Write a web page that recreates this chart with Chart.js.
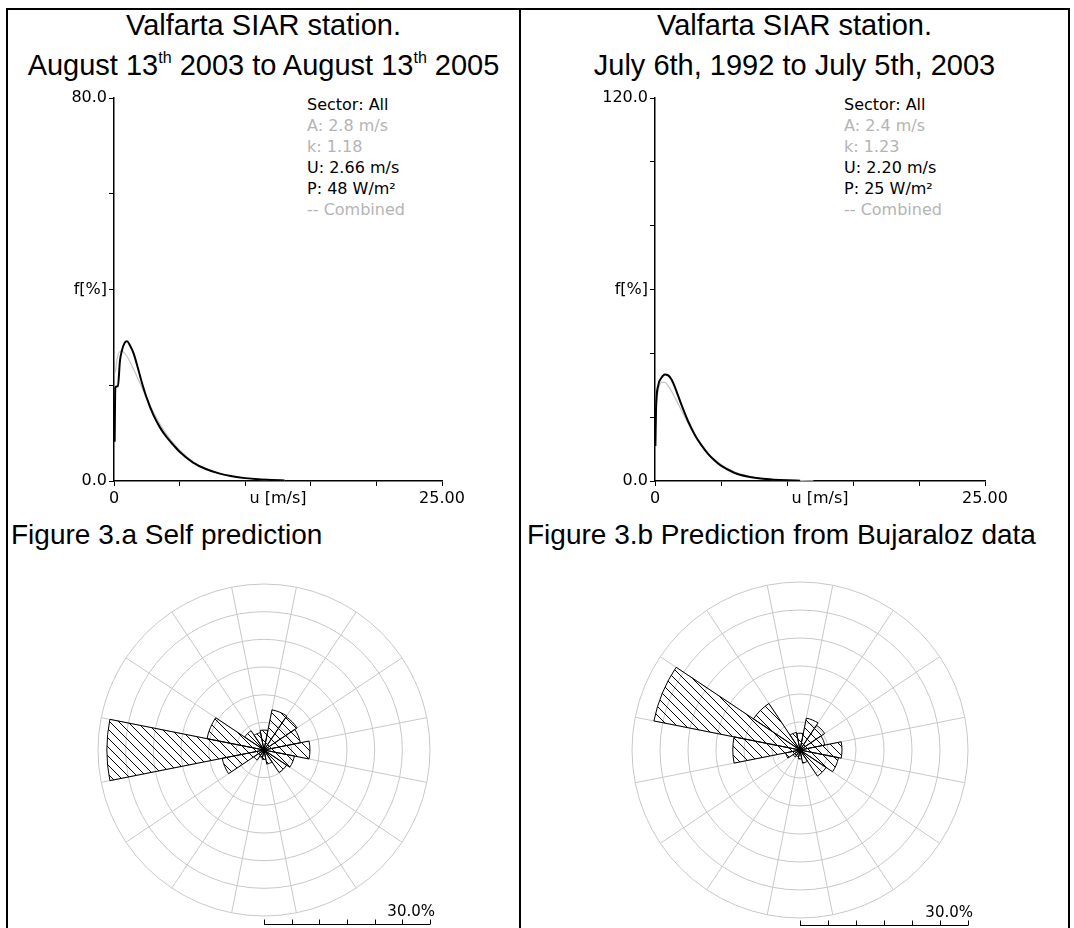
<!DOCTYPE html>
<html>
<head>
<meta charset="utf-8">
<title>Valfarta SIAR station</title>
<script src="https://cdn.jsdelivr.net/npm/chart.js@4.4.1/dist/chart.umd.min.js"></script>
<style>
    html, body { margin: 0; padding: 0; background: #fff; }
    #page { position: relative; width: 1074px; height: 928px; overflow: hidden; font-family: "Liberation Sans", Arial, sans-serif; color: #000; }
    .rule { position: absolute; background: #000; }
    .title { position: absolute; top: 5px; text-align: center; font-size: 29px; line-height: 40px; white-space: nowrap; }
    .title sup { font-size: 16px; vertical-align: baseline; position: relative; top: -12px; }
    .caption { position: absolute; top: 515px; font-size: 28px; line-height: 40px; white-space: nowrap; }
    .stats { position: absolute; top: 94px; font-family: "DejaVu Sans", sans-serif; font-size: 16px; line-height: 21px; white-space: nowrap; }
    .stats .dim { color: #b4b4b4; }
    canvas { position: absolute; }
</style>
</head>
<body>
<div id="page">
    <!-- table frame -->
    <div class="rule" style="left:6px; top:8px; width:1064px; height:2px;"></div>
    <div class="rule" style="left:6px; top:8px; width:2px; height:920px;"></div>
    <div class="rule" style="left:519px; top:8px; width:2px; height:920px;"></div>
    <div class="rule" style="left:1068px; top:8px; width:2px; height:920px;"></div>

    <div class="title" style="left:8px; width:511px;">Valfarta SIAR station.<br>August 13<sup>th</sup> 2003 to August 13<sup>th</sup> 2005</div>
    <div class="title" style="left:521px; width:547px;">Valfarta SIAR station.<br>July 6th, 1992 to July 5th, 2003</div>

    <div class="stats" style="left:307px;">
        <div>Sector: All</div>
        <div class="dim">A: 2.8 m/s</div>
        <div class="dim">k: 1.18</div>
        <div>U: 2.66 m/s</div>
        <div>P: 48 W/m²</div>
        <div class="dim">-- Combined</div>
    </div>
    <div class="stats" style="left:844px;">
        <div>Sector: All</div>
        <div class="dim">A: 2.4 m/s</div>
        <div class="dim">k: 1.23</div>
        <div>U: 2.20 m/s</div>
        <div>P: 25 W/m²</div>
        <div class="dim">-- Combined</div>
    </div>

    <div class="caption" style="left:11px;">Figure 3.a Self prediction</div>
    <div class="caption" style="left:527px;">Figure 3.b Prediction from Bujaraloz data</div>

    <canvas id="distSelf" width="440" height="440" style="left:40px; top:80px;"></canvas>
    <canvas id="distBuj" width="440" height="440" style="left:580px; top:80px;"></canvas>
    <canvas id="roseSelf" width="344" height="350" style="left:92px; top:578px;"></canvas>
    <canvas id="roseBuj" width="348" height="352" style="left:626px; top:576px;"></canvas>
</div>

<script>
/* Valfarta wind data */

// x axis (wind speed)
const speedTicks = [0, 5, 10, 12.5, 15, 20, 25];
const speedTickLabels = ['0', '', '', 'u [m/s]', '', '', '25.00'];

// Fig 3.a - observed histogram (black) and Weibull fit (grey)
const selfObsSpeed = [0.05, 0.1, 0.3, 0.45, 0.6, 0.8, 1.0, 1.2, 1.5, 1.8, 2.1, 2.5, 3.0, 3.5, 4.0, 4.5, 5.0, 6.0, 7.0, 8.0, 9.0, 10.0, 11.0, 12.0, 13.0];
const selfObsFreq = [8.2, 19.5, 19.8, 25.0, 27.2, 28.8, 29.2, 28.4, 26.6, 23.8, 20.8, 17.3, 13.8, 11.2, 9.2, 7.6, 6.1, 3.9, 2.5, 1.6, 1.0, 0.6, 0.35, 0.2, 0.1];
const selfFitSpeed = [0.1, 0.25, 0.5, 0.75, 1.0, 1.5, 2.0, 2.5, 3.0, 3.5, 4.0, 4.5, 5.0, 6.0, 7.0, 8.0, 9.0, 10.0, 11.0, 12.0, 13.0];
const selfFitFreq = [22.7, 25.7, 27.1, 26.9, 26.0, 23.3, 20.3, 17.2, 14.4, 11.9, 9.8, 8.0, 6.5, 4.1, 2.6, 1.6, 1.0, 0.6, 0.35, 0.2, 0.1];
const selfFreqTicks = [0, 20, 40, 60, 80];
const selfFreqLabels = ['0.0', '', 'f[%]', '', '80.0'];

// Fig 3.b - prediction from Bujaraloz
const bujObsSpeed = [0.03, 0.08, 0.25, 0.5, 0.75, 1.0, 1.25, 1.5, 2.0, 2.5, 3.0, 3.5, 4.0, 4.5, 5.0, 6.0, 7.0, 8.0, 9.0, 10.0, 11.0];
const bujObsFreq = [11.0, 22.8, 30.0, 32.4, 33.4, 33.1, 31.8, 29.5, 23.9, 18.8, 14.6, 11.3, 8.6, 6.5, 4.8, 2.6, 1.4, 0.75, 0.4, 0.2, 0.1];
const bujFitSpeed = [0.1, 0.25, 0.5, 0.75, 1.0, 1.5, 2.0, 2.5, 3.0, 3.5, 4.0, 4.5, 5.0, 6.0, 7.0, 8.0, 9.0, 10.0, 11.0, 12.0];
const bujFitFreq = [24.2, 28.6, 30.9, 30.9, 29.8, 26.2, 22.1, 18.1, 14.5, 11.4, 8.8, 6.8, 5.2, 2.9, 1.6, 0.8, 0.4, 0.2, 0.1, 0.05];
const bujFreqTicks = [0, 20, 40, 60, 80, 100, 120];
const bujFreqLabels = ['0.0', '', '', 'f[%]', '', '', '120.0'];

// wind roses, 16 sectors, frequency in %
const sectorLabels = ['N', 'NNE', 'NE', 'ENE', 'E', 'ESE', 'SE', 'SSE', 'S', 'SSW', 'SW', 'WSW', 'W', 'WNW', 'NW', 'NNW'];
const roseSelfFreq = [3.6, 7.4, 7.2, 6.7, 8.3, 5.6, 4.9, 2.6, 1.7, 1.4, 2.2, 7.7, 28.4, 10.5, 4.2, 3.2];
const roseBujFreq = [3.0, 5.8, 5.3, 4.5, 7.5, 7.0, 5.6, 2.4, 1.6, 1.2, 1.5, 2.6, 12.0, 26.6, 10.0, 3.2];
const roseMax = 30;
const roseStep = 5;
const roseScaleLabel = '30.0%';

const smallFont = { family: 'DejaVu Sans', size: 16 };

document.addEventListener('DOMContentLoaded', () => {
    drawDistribution('distSelf', toPoints(selfObsSpeed, selfObsFreq), toPoints(selfFitSpeed, selfFitFreq), selfFreqTicks, selfFreqLabels, 74, 38);
    drawDistribution('distBuj', toPoints(bujObsSpeed, bujObsFreq), toPoints(bujFitSpeed, bujFitFreq), bujFreqTicks, bujFreqLabels, 75, 35);
    drawRose('roseSelf', roseSelfFreq, { left: 6, right: 6, top: 6, bottom: 12 }, 174);
    drawRose('roseBuj', roseBujFreq, { left: 6, right: 6, top: 6, bottom: 10 }, 175);
});

function toPoints(xs, ys) {
    return xs.map((x, i) => ({ x: x, y: ys[i] }));
}

function labelFor(values, labels) {
    return (v) => {
        const i = values.indexOf(v);
        return i < 0 ? '' : labels[i];
    };
}

function drawDistribution(id, observed, fitted, yTicks, yLabels, yWidth, padRight) {
    new Chart(document.getElementById(id), {
        type: 'scatter',
        data: {
            datasets: [
                { data: observed, showLine: true, borderColor: '#000', borderWidth: 2, pointRadius: 0, cubicInterpolationMode: 'monotone' },
                { data: fitted, showLine: true, borderColor: '#c4c4c4', borderWidth: 1.2, pointRadius: 0, cubicInterpolationMode: 'monotone' }
            ]
        },
        options: {
            responsive: false,
            animation: false,
            events: [],
            layout: { padding: { left: 0, top: 18, right: padRight, bottom: 0 } },
            plugins: { legend: { display: false }, tooltip: { enabled: false } },
            scales: {
                x: {
                    type: 'linear',
                    min: 0,
                    max: 25,
                    afterBuildTicks: (ax) => { ax.ticks = speedTicks.map(v => ({ value: v })); },
                    afterFit: (ax) => { ax.height = 39; },
                    border: { color: '#000', width: 1.5 },
                    grid: {
                        drawOnChartArea: false,
                        tickLength: 5,
                        // no tick mark under the axis title
                        tickColor: (c) => (c.tick && c.tick.value === 12.5) ? 'rgba(0,0,0,0)' : '#000'
                    },
                    ticks: { autoSkip: false, maxRotation: 0, padding: 3, color: '#000', font: smallFont, callback: labelFor(speedTicks, speedTickLabels) }
                },
                y: {
                    min: 0,
                    max: yTicks[yTicks.length - 1],
                    afterBuildTicks: (ax) => { ax.ticks = yTicks.map(v => ({ value: v })); },
                    afterFit: (ax) => { ax.width = yWidth; },
                    border: { color: '#000', width: 1.5 },
                    grid: { drawOnChartArea: false, tickLength: 5, tickColor: '#000' },
                    ticks: { autoSkip: false, padding: 2, color: '#000', font: smallFont, callback: labelFor(yTicks, yLabels) }
                }
            }
        }
    });
}

function hatchPattern(canvas) {
    const tile = document.createElement('canvas');
    tile.width = 9;
    tile.height = 9;
    const g = tile.getContext('2d');
    g.strokeStyle = '#000';
    g.lineWidth = 1;
    g.beginPath();
    g.moveTo(-2, -2); g.lineTo(11, 11);
    g.moveTo(-2, 7); g.lineTo(2, 11);
    g.moveTo(7, -2); g.lineTo(11, 2);
    g.stroke();
    return canvas.getContext('2d').createPattern(tile, 'repeat');
}

// length scale under each rose: one tick per ring
const scaleBar = {
    id: 'scaleBar',
    afterDraw(chart, args, opts) {
        const r = chart.scales.r;
        const ctx = chart.ctx;
        const y = Math.round(r.yCenter + opts.offset) + 0.5;
        const x0 = r.xCenter;
        const x1 = x0 + r.getDistanceFromCenterForValue(r.max);
        ctx.save();
        ctx.strokeStyle = '#000';
        ctx.lineWidth = 1;
        ctx.beginPath();
        ctx.moveTo(x0, y);
        ctx.lineTo(x1, y);
        r.ticks.forEach(t => {
            const x = Math.round(x0 + r.getDistanceFromCenterForValue(t.value)) + 0.5;
            ctx.moveTo(x, y);
            ctx.lineTo(x, y - 5);
        });
        ctx.stroke();
        ctx.fillStyle = '#000';
        ctx.font = '15px "DejaVu Sans"';
        ctx.textAlign = 'right';
        ctx.fillText(opts.label, x1 + 5, y - 9);
        ctx.restore();
    }
};

function drawRose(id, freq, padding, barOffset) {
    const canvas = document.getElementById(id);
    new Chart(canvas, {
        type: 'polarArea',
        data: {
            labels: sectorLabels,
            datasets: [{
                data: freq,
                backgroundColor: hatchPattern(canvas),
                borderColor: '#000',
                borderWidth: 1
            }]
        },
        options: {
            responsive: false,
            animation: false,
            events: [],
            layout: { padding: padding },
            plugins: {
                legend: { display: false },
                tooltip: { enabled: false },
                scaleBar: { offset: barOffset, label: roseScaleLabel }
            },
            scales: {
                r: {
                    min: 0,
                    max: roseMax,
                    startAngle: -11.25,
                    ticks: { display: false, stepSize: roseStep },
                    grid: { circular: true, color: '#c8c8c8', lineWidth: 1 },
                    angleLines: { display: true, color: '#c8c8c8', lineWidth: 1 },
                    pointLabels: { display: false }
                }
            }
        },
        plugins: [scaleBar]
    });
}
</script>
</body>
</html>
